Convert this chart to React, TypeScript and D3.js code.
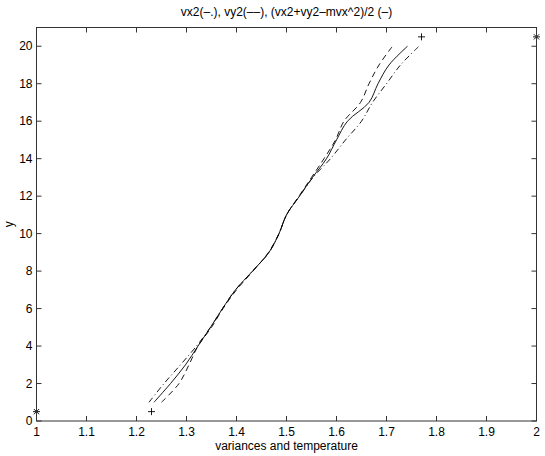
import React from "react"
import * as d3 from "d3"

// y levels shared by the three curves
const yLevels = [1, 2, 3, 4, 5, 6, 7, 8, 9, 10, 11, 12, 13, 14, 15, 16, 17, 18, 19, 20]

// vx2 (-.)
const vx2 = [1.225, 1.255, 1.288, 1.32, 1.348, 1.372, 1.398, 1.432, 1.465, 1.485, 1.5, 1.526, 1.553, 1.588, 1.618, 1.65, 1.672, 1.7, 1.728, 1.765]
// vy2 (--)
const vy2 = [1.25, 1.285, 1.305, 1.323, 1.35, 1.373, 1.4, 1.433, 1.464, 1.485, 1.5, 1.525, 1.55, 1.575, 1.598, 1.615, 1.648, 1.665, 1.685, 1.712]
// (vx2+vy2-mvx^2)/2 (-)
const temp = [1.235, 1.268, 1.298, 1.323, 1.348, 1.372, 1.398, 1.432, 1.465, 1.485, 1.5, 1.526, 1.552, 1.58, 1.6, 1.622, 1.665, 1.683, 1.705, 1.742]

const starPoints = [[1, 0.5], [2, 20.5]]
const plusPoints = [[1.23, 0.5], [1.77, 20.5]]

const xTicks = [1, 1.1, 1.2, 1.3, 1.4, 1.5, 1.6, 1.7, 1.8, 1.9, 2]
const yTicks = [0, 2, 4, 6, 8, 10, 12, 14, 16, 18, 20]

const W = 545
const H = 456
const left = 36.5
const right = 536.5
const top = 27.5
const bottom = 421

export default function App() {
  const x = d3.scaleLinear().domain([1, 2]).range([left, right])
  const y = d3.scaleLinear().domain([0, 21]).range([bottom, top])

  const line = d3
    .line<number>()
    .x(d => x(d))
    .y((_, i) => y(yLevels[i]))
    .curve(d3.curveCatmullRom)

  const font = "'Liberation Sans', Arial, Helvetica, sans-serif"
  const axisColor = "#333"
  const tl = 5

  return (
    <svg
      width={W}
      height={H}
      style={{ position: "absolute", left: 0, top: 0, background: "#fff" }}
      fontFamily={font}
    >
      <rect x={0} y={0} width={W} height={H} fill="#fff" />

      {/* curves */}
      <path d={line(vx2) || ""} fill="none" stroke="#000" strokeWidth={0.9} strokeDasharray="6,3,1,3" />
      <path d={line(vy2) || ""} fill="none" stroke="#000" strokeWidth={0.9} strokeDasharray="6,4" />
      <path d={line(temp) || ""} fill="none" stroke="#000" strokeWidth={0.9} />

      {/* markers */}
      {plusPoints.map((p, i) => (
        <g key={"p" + i} stroke="#000" strokeWidth={0.9}>
          <line x1={x(p[0]) - 3.5} x2={x(p[0]) + 3.5} y1={y(p[1])} y2={y(p[1])} />
          <line x1={x(p[0])} x2={x(p[0])} y1={y(p[1]) - 3.5} y2={y(p[1]) + 3.5} />
        </g>
      ))}
      {starPoints.map((p, i) => {
        const cx = x(p[0])
        const cy = y(p[1])
        const r = 3.5
        return (
          <g key={"s" + i} stroke="#000" strokeWidth={0.9}>
            <line x1={cx - r} x2={cx + r} y1={cy} y2={cy} />
            <line x1={cx} x2={cx} y1={cy - r} y2={cy + r} />
            <line x1={cx - r * 0.75} x2={cx + r * 0.75} y1={cy - r * 0.75} y2={cy + r * 0.75} />
            <line x1={cx - r * 0.75} x2={cx + r * 0.75} y1={cy + r * 0.75} y2={cy - r * 0.75} />
          </g>
        )
      })}

      {/* axes box */}
      <rect x={left} y={top} width={right - left} height={bottom - top} fill="none" stroke={axisColor} strokeWidth={1} />

      {xTicks.map(t => (
        <g key={"x" + t}>
          <line x1={x(t)} x2={x(t)} y1={bottom} y2={bottom - tl} stroke={axisColor} />
          <line x1={x(t)} x2={x(t)} y1={top} y2={top + tl} stroke={axisColor} />
          <text x={x(t)} y={bottom + 15} textAnchor="middle" fontSize={12} fill="#000">
            {String(t)}
          </text>
        </g>
      ))}
      {yTicks.map(t => (
        <g key={"y" + t}>
          <line x1={left} x2={left + tl} y1={y(t)} y2={y(t)} stroke={axisColor} />
          <line x1={right} x2={right - tl} y1={y(t)} y2={y(t)} stroke={axisColor} />
          <text x={left - 4} y={y(t) + 4} textAnchor="end" fontSize={12} fill="#000">
            {String(t)}
          </text>
        </g>
      ))}

      <text x={(left + right) / 2} y={16} textAnchor="middle" fontSize={12} fill="#000">
        vx2(–.), vy2(––), (vx2+vy2–mvx^2)/2 (–)
      </text>
      <text x={(left + right) / 2} y={450} textAnchor="middle" fontSize={12} fill="#000">
        variances and temperature
      </text>
      <text
        transform={`translate(13, ${(top + bottom) / 2}) rotate(-90)`}
        textAnchor="middle"
        fontSize={12}
        fill="#000"
      >
        y
      </text>
    </svg>
  )
}
